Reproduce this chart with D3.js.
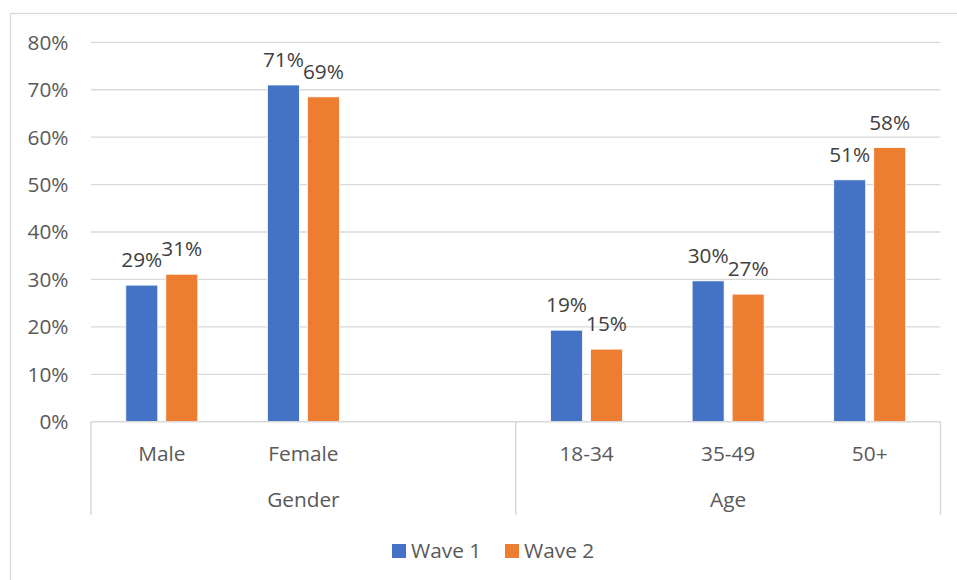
<!DOCTYPE html>
<html>
<head>
<meta charset="utf-8">
<script src="https://cdn.jsdelivr.net/npm/d3@7"></script>
<style>
  body { margin: 0; background: #fff; }
  svg { display: block; }
  text { font-family: "Open Sans", sans-serif; }
</style>
</head>
<body>
<svg id="chart" width="957" height="580"></svg>
<script>
const categories = ['Male', 'Female', '', '18-34', '35-49', '50+'];
const groups = [
  { name: 'Gender', first: 0, last: 2 },
  { name: 'Age', first: 3, last: 5 }
];
const seriesNames = ['Wave 1', 'Wave 2'];
const wave1 = [28.8, 71.0, null, 19.3, 29.7, 51.0];
const wave2 = [31.1, 68.5, null, 15.3, 26.9, 57.8];
const yTicks = [0, 10, 20, 30, 40, 50, 60, 70, 80];
const colors = ['#4472C4', '#ED7D31'];

const fontSize = 20.8;
const svg = d3.select('#chart');

// chart area border
svg.append('rect')
  .attr('x', 10.5).attr('y', 13.5)
  .attr('width', 960).attr('height', 600)
  .attr('fill', 'none')
  .attr('stroke', '#d9d9d9')
  .attr('stroke-width', 1.3);

const left = 91;
const right = 940.5;
const y = d3.scaleLinear().domain([0, 80]).range([421.7, 42.3]);
const x = d3.scaleBand().domain(d3.range(categories.length)).range([left, right]);
const inner = d3.scaleBand().domain(seriesNames).range([-36, 36]).paddingInner(0.2);

// gridlines
svg.append('g').selectAll('line')
  .data(yTicks.slice(1))
  .enter()
  .append('line')
  .attr('x1', left).attr('x2', right)
  .attr('y1', (d) => y(d)).attr('y2', (d) => y(d))
  .attr('stroke', '#d9d9d9')
  .attr('stroke-width', 1.3);

// y labels
svg.append('g').selectAll('text')
  .data(yTicks)
  .enter()
  .append('text')
  .attr('x', 68.5)
  .attr('y', (d) => y(d))
  .attr('dy', '0.36em')
  .attr('text-anchor', 'end')
  .attr('font-size', fontSize)
  .attr('fill', '#595959')
  .text((d) => d + '%');

// bars
const series = seriesNames.map((name, i) => ({
  name,
  color: colors[i],
  values: [wave1, wave2][i]
}));

const barData = [];
series.forEach((s) => {
  s.values.forEach((v, idx) => {
    if (v !== null) barData.push({ series: s.name, color: s.color, idx, value: v });
  });
});

const cx = (d) => x(d.idx) + x.bandwidth() / 2 + inner(d.series);

svg.append('g').selectAll('rect')
  .data(barData)
  .enter()
  .append('rect')
  .attr('x', cx)
  .attr('y', (d) => y(d.value))
  .attr('width', inner.bandwidth())
  .attr('height', (d) => y(0) - y(d.value))
  .attr('fill', (d) => d.color)
  .attr('stroke', '#fff')
  .attr('stroke-width', 0.8);

// data labels
svg.append('g').selectAll('text')
  .data(barData)
  .enter()
  .append('text')
  .attr('x', (d) => cx(d) + inner.bandwidth() / 2)
  .attr('y', (d) => y(d.value) - 18)
  .attr('text-anchor', 'middle')
  .attr('font-size', fontSize)
  .attr('fill', '#404040')
  .text((d) => Math.round(d.value) + '%');

// category axis
const axisColor = '#d9d9d9';
svg.append('line')
  .attr('x1', left).attr('x2', right)
  .attr('y1', y(0)).attr('y2', y(0))
  .attr('stroke', axisColor)
  .attr('stroke-width', 1.5);

const bounds = [left].concat(groups.map((g) => x(g.last) + x.bandwidth()));
svg.append('g').selectAll('line')
  .data(bounds)
  .enter()
  .append('line')
  .attr('x1', (d) => d).attr('x2', (d) => d)
  .attr('y1', y(0)).attr('y2', 515)
  .attr('stroke', axisColor)
  .attr('stroke-width', 1.5);

svg.append('g').selectAll('text')
  .data(categories)
  .enter()
  .append('text')
  .attr('x', (d, i) => x(i) + x.bandwidth() / 2)
  .attr('y', 460.5)
  .attr('text-anchor', 'middle')
  .attr('font-size', fontSize)
  .attr('fill', '#595959')
  .text((d) => d);

svg.append('g').selectAll('text')
  .data(groups)
  .enter()
  .append('text')
  .attr('x', (g) => (x(g.first) + x(g.last) + x.bandwidth()) / 2)
  .attr('y', 506.5)
  .attr('text-anchor', 'middle')
  .attr('font-size', fontSize)
  .attr('fill', '#595959')
  .text((g) => g.name);

// legend
const legendX = [392, 505];
const legend = svg.append('g').selectAll('g')
  .data(series)
  .enter()
  .append('g')
  .attr('transform', (d, i) => `translate(${legendX[i]},544)`);

legend.append('rect')
  .attr('width', 14).attr('height', 14)
  .attr('fill', (d) => d.color);

legend.append('text')
  .attr('x', 19)
  .attr('y', 13.7)
  .attr('font-size', fontSize)
  .attr('fill', '#595959')
  .text((d) => d.name);
</script>
</body>
</html>
